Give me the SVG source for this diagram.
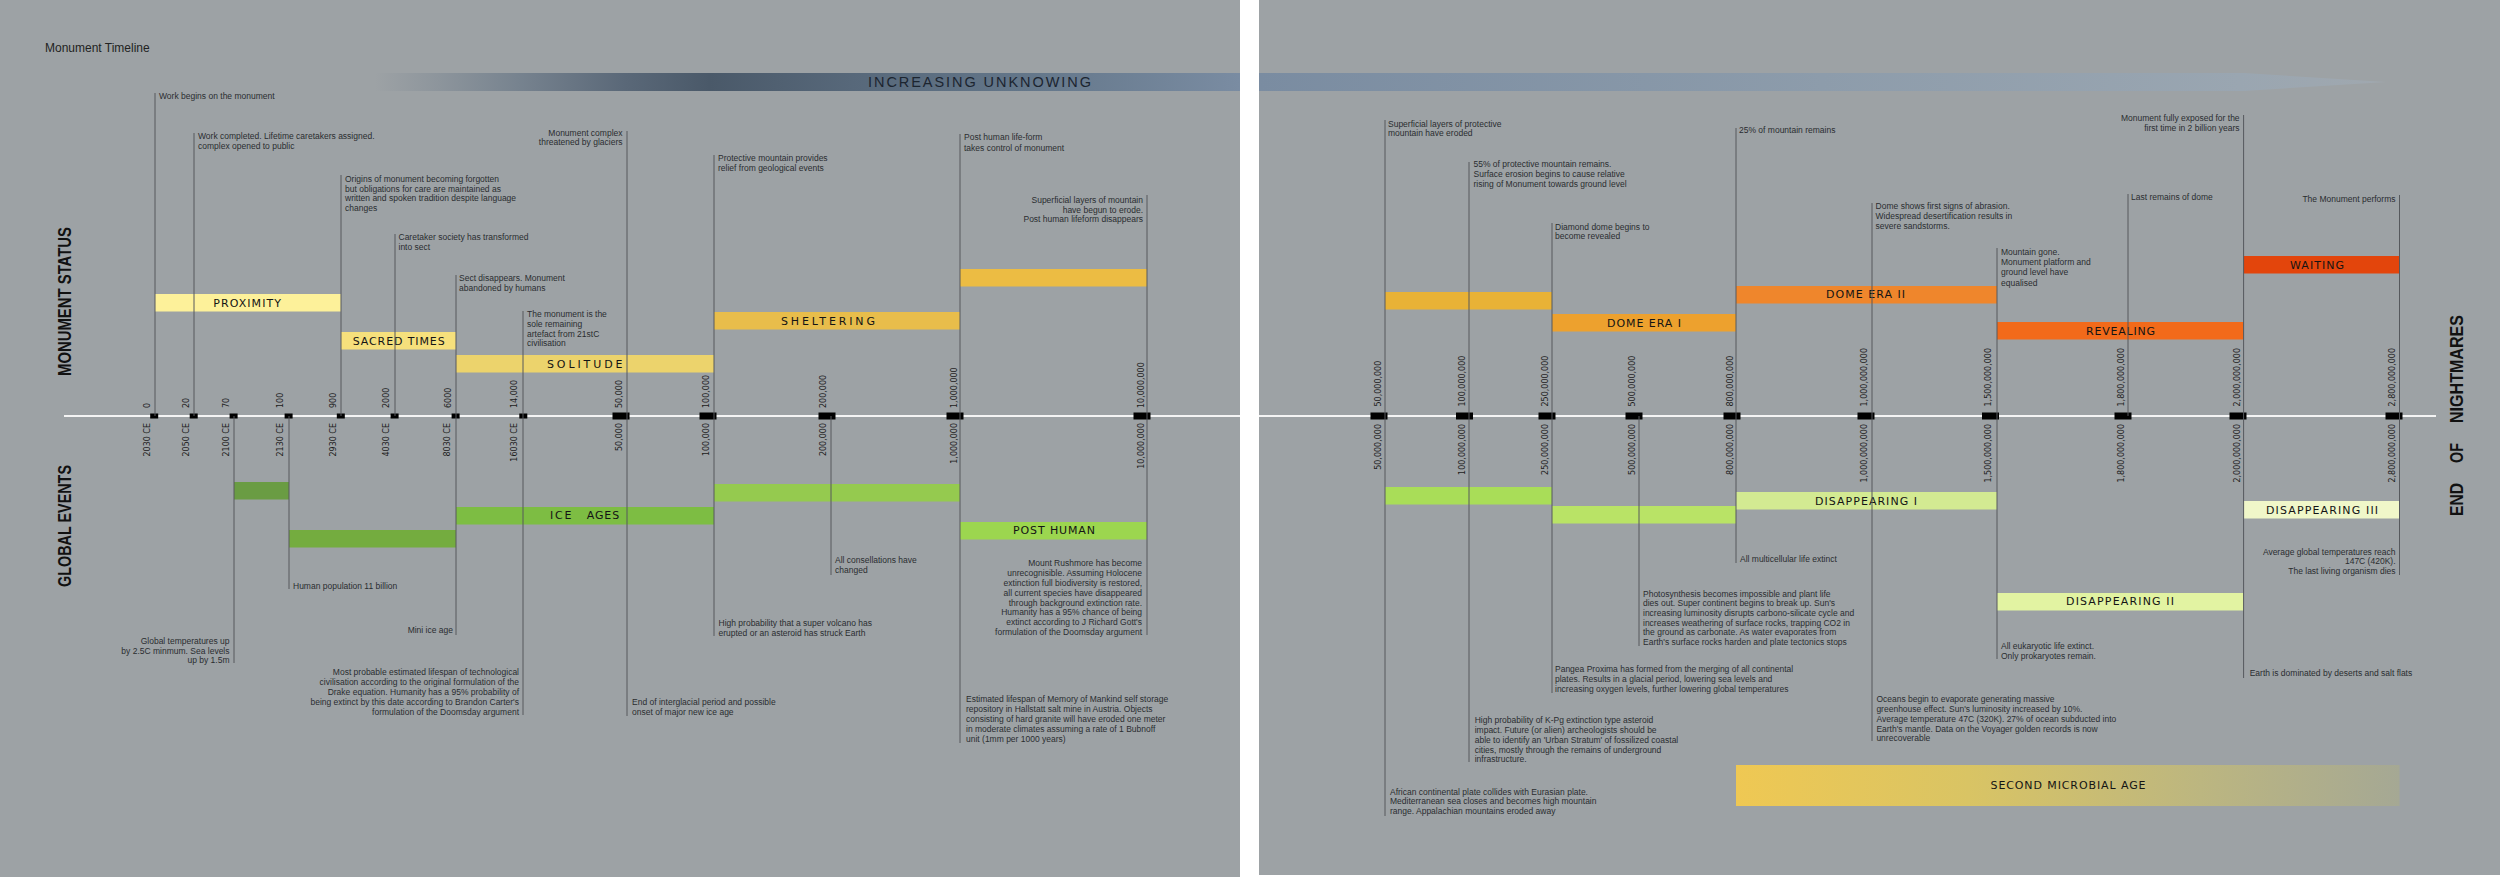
<svg xmlns="http://www.w3.org/2000/svg" width="2500" height="877" viewBox="0 0 2500 877">
<defs>
<linearGradient id="bandL" gradientUnits="userSpaceOnUse" x1="375" y1="0" x2="1240" y2="0">
<stop offset="0" stop-color="#9da2a5"/>
<stop offset="0.073" stop-color="#8d959c"/>
<stop offset="0.165" stop-color="#77838f"/>
<stop offset="0.289" stop-color="#5a6878"/>
<stop offset="0.387" stop-color="#4a5969"/>
<stop offset="0.551" stop-color="#57687a"/>
<stop offset="0.746" stop-color="#637689"/>
<stop offset="1" stop-color="#7a8ca2"/>
</linearGradient>
<linearGradient id="bandR" gradientUnits="userSpaceOnUse" x1="1259" y1="0" x2="2386" y2="0">
<stop offset="0" stop-color="#7a8ca1"/>
<stop offset="0.5" stop-color="#8d9cab"/>
<stop offset="0.87" stop-color="#9aa6b1"/>
<stop offset="1" stop-color="#a0a8af"/>
</linearGradient>
<linearGradient id="microbial" gradientUnits="userSpaceOnUse" x1="1736" y1="0" x2="2399.5" y2="0">
<stop offset="0" stop-color="#efc853"/>
<stop offset="0.35" stop-color="#d9c464"/>
<stop offset="0.7" stop-color="#bcb680"/>
<stop offset="1" stop-color="#a5a894"/>
</linearGradient>
</defs>
<style>
.panel{fill:#9da2a5}
.t{font-family:"Liberation Sans",Arial,sans-serif;font-size:8.5px;fill:#2a2d30}
.e{text-anchor:end}
.tk{font-family:"DejaVu Sans",Verdana,sans-serif;font-size:8px;fill:#1c1c1c}
.tke{font-family:"DejaVu Sans",Verdana,sans-serif;font-size:8px;fill:#1c1c1c;text-anchor:end}
.bl{font-family:"DejaVu Sans",Verdana,sans-serif;font-size:11px;fill:#141414}
.hd{font-family:"Liberation Sans",Arial,sans-serif;font-weight:bold;font-size:18px;fill:#111}
.ld{stroke:#56595d;stroke-width:1;fill:none}
.ax{stroke:#f4f4f4;stroke-width:2.2}
.mk{fill:#000}
</style>
<rect x="0" y="0" width="2500" height="877" fill="#ffffff"/>
<rect class="panel" x="0" y="0" width="1240" height="877"/>
<rect class="panel" x="1259" y="0" width="1241" height="875"/>

<g id="title"><text x="45" y="52" font-family="Liberation Sans, Arial, sans-serif" font-size="12" fill="#222">Monument Timeline</text></g>

<g id="band-unknowing">
<rect x="375" y="73" width="865" height="18" fill="url(#bandL)"/>
<path d="M1259,73 L2244,73 L2386,82 L2244,91 L1259,91 Z" fill="url(#bandR)"/>
<text x="868" y="87" font-family="Liberation Sans, Arial, sans-serif" font-size="14.5" fill="#1c2530" textLength="223" lengthAdjust="spacing">INCREASING UNKNOWING</text>
</g>

<g id="section-labels">
<text class="hd" transform="translate(71,376) rotate(-90)" textLength="149" lengthAdjust="spacingAndGlyphs">MONUMENT STATUS</text>
<text class="hd" transform="translate(71,587) rotate(-90)" textLength="122" lengthAdjust="spacingAndGlyphs">GLOBAL EVENTS</text>
<text class="hd" transform="translate(2462.5,516) rotate(-90)" textLength="33" lengthAdjust="spacingAndGlyphs">END</text>
<text class="hd" transform="translate(2462.5,463) rotate(-90)" textLength="20" lengthAdjust="spacingAndGlyphs">OF</text>
<text class="hd" transform="translate(2462.5,423) rotate(-90)" textLength="108" lengthAdjust="spacingAndGlyphs">NIGHTMARES</text>
</g>

<g id="axis">
<line class="ax" x1="64" y1="416" x2="1240" y2="416"/>
<line class="ax" x1="1259" y1="416" x2="2436" y2="416"/>
<rect class="mk" x="150.2" y="413.5" width="8" height="5"/>
<rect class="mk" x="189.7" y="413.5" width="8" height="5"/>
<rect class="mk" x="229.6" y="413.5" width="8" height="5"/>
<rect class="mk" x="284.6" y="413.5" width="8" height="5"/>
<rect class="mk" x="336.8" y="413.5" width="8" height="5"/>
<rect class="mk" x="390.6" y="413.5" width="8" height="5"/>
<rect class="mk" x="451.6" y="413.5" width="8" height="5"/>
<rect class="mk" x="519.3" y="413.5" width="8" height="5"/>
<rect class="mk" x="612.5" y="412.5" width="17" height="7"/>
<rect class="mk" x="699.5" y="412.5" width="17" height="7"/>
<rect class="mk" x="818.5" y="412.5" width="17" height="7"/>
<rect class="mk" x="946.5" y="412.5" width="17" height="7"/>
<rect class="mk" x="1133.5" y="412.5" width="17" height="7"/>
<rect class="mk" x="1370.5" y="412.5" width="17" height="7"/>
<rect class="mk" x="1456" y="412.5" width="17" height="7"/>
<rect class="mk" x="1538.5" y="412.5" width="17" height="7"/>
<rect class="mk" x="1625.5" y="412.5" width="17" height="7"/>
<rect class="mk" x="1723.5" y="412.5" width="17" height="7"/>
<rect class="mk" x="1857.5" y="412.5" width="17" height="7"/>
<rect class="mk" x="1982" y="412.5" width="17" height="7"/>
<rect class="mk" x="2114.5" y="412.5" width="17" height="7"/>
<rect class="mk" x="2229.5" y="412.5" width="17" height="7"/>
<rect class="mk" x="2385.5" y="412.5" width="17" height="7"/>
</g>

<g id="tick-labels">
<text class="tk" transform="translate(149.6,408) rotate(-90)">0</text>
<text class="tk" transform="translate(188.6,408) rotate(-90)">20</text>
<text class="tk" transform="translate(228.5,408) rotate(-90)">70</text>
<text class="tk" transform="translate(283.1,408) rotate(-90)">100</text>
<text class="tk" transform="translate(336.1,408) rotate(-90)">900</text>
<text class="tk" transform="translate(388.7,408) rotate(-90)">2000</text>
<text class="tk" transform="translate(450.5,408) rotate(-90)">6000</text>
<text class="tk" transform="translate(517.4,408) rotate(-90)">14,000</text>
<text class="tk" transform="translate(621.9,408) rotate(-90)">50,000</text>
<text class="tk" transform="translate(709.3,408) rotate(-90)">100,000</text>
<text class="tk" transform="translate(826.2,408) rotate(-90)">200,000</text>
<text class="tk" transform="translate(956.6,408) rotate(-90)">1,000,000</text>
<text class="tk" transform="translate(1144.1,408) rotate(-90)">10,000,000</text>
<text class="tk" transform="translate(1380.5,406.5) rotate(-90)">50,000,000</text>
<text class="tk" transform="translate(1464.5,406.5) rotate(-90)">100,000,000</text>
<text class="tk" transform="translate(1548.2,406.5) rotate(-90)">250,000,000</text>
<text class="tk" transform="translate(1634.7,406.5) rotate(-90)">500,000,000</text>
<text class="tk" transform="translate(1732.7,406.5) rotate(-90)">800,000,000</text>
<text class="tk" transform="translate(1867.4,406.5) rotate(-90)">1,000,000,000</text>
<text class="tk" transform="translate(1991.4,406.5) rotate(-90)">1,500,000,000</text>
<text class="tk" transform="translate(2123.6,406.5) rotate(-90)">1,800,000,000</text>
<text class="tk" transform="translate(2240.1,406.5) rotate(-90)">2,000,000,000</text>
<text class="tk" transform="translate(2395.2,406.5) rotate(-90)">2,800,000,000</text>

<text class="tke" transform="translate(149.6,423) rotate(-90)">2030 CE</text>
<text class="tke" transform="translate(188.6,423) rotate(-90)">2050 CE</text>
<text class="tke" transform="translate(228.5,423) rotate(-90)">2100 CE</text>
<text class="tke" transform="translate(283.1,423) rotate(-90)">2130 CE</text>
<text class="tke" transform="translate(336.1,423) rotate(-90)">2930 CE</text>
<text class="tke" transform="translate(388.7,423) rotate(-90)">4030 CE</text>
<text class="tke" transform="translate(450.1,423) rotate(-90)">8030 CE</text>
<text class="tke" transform="translate(517.4,423) rotate(-90)">16030 CE</text>
<text class="tke" transform="translate(621.9,423) rotate(-90)">50,000</text>
<text class="tke" transform="translate(709.3,423) rotate(-90)">100,000</text>
<text class="tke" transform="translate(826.2,423) rotate(-90)">200,000</text>
<text class="tke" transform="translate(956.6,423) rotate(-90)">1,000,000</text>
<text class="tke" transform="translate(1144.1,423) rotate(-90)">10,000,000</text>
<text class="tke" transform="translate(1380.5,424) rotate(-90)">50,000,000</text>
<text class="tke" transform="translate(1464.5,424) rotate(-90)">100,000,000</text>
<text class="tke" transform="translate(1548.2,424) rotate(-90)">250,000,000</text>
<text class="tke" transform="translate(1634.7,424) rotate(-90)">500,000,000</text>
<text class="tke" transform="translate(1732.7,424) rotate(-90)">800,000,000</text>
<text class="tke" transform="translate(1867.4,424) rotate(-90)">1,000,000,000</text>
<text class="tke" transform="translate(1991.4,424) rotate(-90)">1,500,000,000</text>
<text class="tke" transform="translate(2123.6,424) rotate(-90)">1,800,000,000</text>
<text class="tke" transform="translate(2240.1,424) rotate(-90)">2,000,000,000</text>
<text class="tke" transform="translate(2395.2,424) rotate(-90)">2,800,000,000</text>
</g>

<g id="phase-proximity"><rect x="155" y="294" width="186" height="17.5" fill="#fdf19a"/><text class="bl" x="213.2" y="307" textLength="67.8" lengthAdjust="spacing">PROXIMITY</text></g>
<g id="phase-sacred-times"><rect x="341" y="332" width="115" height="17.5" fill="#f6e07c"/><text class="bl" x="352.7" y="345" textLength="92" lengthAdjust="spacing">SACRED TIMES</text></g>
<g id="phase-solitude"><rect x="456" y="355" width="258" height="17.5" fill="#ecd36c"/><text class="bl" x="547" y="368" textLength="75.5" lengthAdjust="spacing">SOLITUDE</text></g>
<g id="phase-sheltering"><rect x="714" y="312" width="246" height="17.5" fill="#e8bd4b"/><text class="bl" x="781" y="324.5" textLength="94" lengthAdjust="spacing">SHELTERING</text></g>
<g id="phase-posthuman-status"><rect x="960" y="269" width="187" height="17.5" fill="#ecbc43"/></g>
<g id="phase-erosion"><rect x="1385" y="292" width="167" height="17.5" fill="#e8b236"/></g>
<g id="phase-dome-era-1"><rect x="1552" y="314" width="184" height="17.5" fill="#eda12e"/><text class="bl" x="1607" y="327" textLength="74" lengthAdjust="spacing">DOME ERA I</text></g>
<g id="phase-dome-era-2"><rect x="1736" y="286" width="261" height="17.5" fill="#ef862c"/><text class="bl" x="1826" y="298.3" textLength="79" lengthAdjust="spacing">DOME ERA II</text></g>
<g id="phase-revealing"><rect x="1997" y="322" width="246.6" height="17.5" fill="#f26a1a"/><text class="bl" x="2086" y="335.3" textLength="69" lengthAdjust="spacing">REVEALING</text></g>
<g id="phase-waiting"><rect x="2243.6" y="256" width="155.9" height="17.5" fill="#e3450c"/><text class="bl" x="2290" y="268.5" textLength="54" lengthAdjust="spacing">WAITING</text></g>

<g id="global-warming"><rect x="234" y="482" width="55" height="17.5" fill="#6a9c43"/></g>
<g id="global-population"><rect x="289" y="530" width="167" height="17.5" fill="#74ac3f"/></g>
<g id="global-ice-ages"><rect x="456" y="507" width="258" height="17.5" fill="#7dbd43"/><text class="bl" x="550" y="519.3" textLength="21.5" lengthAdjust="spacing">ICE</text><text class="bl" x="586.7" y="519.3" textLength="32.5" lengthAdjust="spacing">AGES</text></g>
<g id="global-catastrophe"><rect x="714" y="484" width="246" height="17.5" fill="#95ca4f"/></g>
<g id="global-post-human"><rect x="960" y="522" width="187" height="17.5" fill="#9cd64f"/><text class="bl" x="1013" y="534.3" textLength="82" lengthAdjust="spacing">POST HUMAN</text></g>
<g id="global-continents"><rect x="1385" y="487" width="167" height="17.5" fill="#a9dd58"/></g>
<g id="global-pangea"><rect x="1552" y="506" width="184" height="17.5" fill="#b9e366"/></g>
<g id="global-disappearing-1"><rect x="1736" y="492" width="261" height="17.5" fill="#d3ea92"/><text class="bl" x="1815" y="504.7" textLength="102" lengthAdjust="spacing">DISAPPEARING I</text></g>
<g id="global-disappearing-2"><rect x="1997" y="593" width="246.6" height="17.5" fill="#e2f3a2"/><text class="bl" x="2066" y="605" textLength="108" lengthAdjust="spacing">DISAPPEARING II</text></g>
<g id="global-disappearing-3"><rect x="2243.6" y="501" width="155.9" height="17.5" fill="#f0f7c9"/><text class="bl" x="2266" y="514.3" textLength="112" lengthAdjust="spacing">DISAPPEARING III</text></g>
<g id="global-second-microbial-age"><rect x="1736" y="765" width="663.5" height="41" fill="url(#microbial)"/><text class="bl" x="1990.5" y="789.3" textLength="155" lengthAdjust="spacing">SECOND MICROBIAL AGE</text></g>

<g id="connectors">
<line class="ld" x1="155" y1="93" x2="155" y2="416"/>
<line class="ld" x1="194" y1="133" x2="194" y2="416"/>
<line class="ld" x1="341" y1="175" x2="341" y2="416"/>
<line class="ld" x1="395" y1="234" x2="395" y2="416"/>
<line class="ld" x1="456" y1="275" x2="456" y2="635"/>
<line class="ld" x1="523" y1="311" x2="523" y2="715"/>
<line class="ld" x1="627" y1="131" x2="627" y2="716"/>
<line class="ld" x1="714" y1="155" x2="714" y2="636"/>
<line class="ld" x1="960" y1="134" x2="960" y2="743"/>
<line class="ld" x1="1147" y1="195" x2="1147" y2="635"/>
<line class="ld" x1="234" y1="416" x2="234" y2="663"/>
<line class="ld" x1="289" y1="416" x2="289" y2="589"/>
<line class="ld" x1="831" y1="416" x2="831" y2="575"/>
<line class="ld" x1="1385" y1="120" x2="1385" y2="816"/>
<line class="ld" x1="1469" y1="162" x2="1469" y2="762"/>
<line class="ld" x1="1552" y1="223" x2="1552" y2="693"/>
<line class="ld" x1="1639" y1="416" x2="1639" y2="646"/>
<line class="ld" x1="1736" y1="128" x2="1736" y2="563"/>
<line class="ld" x1="1872" y1="203" x2="1872" y2="741"/>
<line class="ld" x1="1997" y1="248" x2="1997" y2="659"/>
<line class="ld" x1="2128" y1="194" x2="2128" y2="416"/>
<line class="ld" x1="2243.6" y1="115" x2="2243.6" y2="678"/>
<line class="ld" x1="2399.5" y1="195" x2="2399.5" y2="575"/>
</g>

<g id="ev-work-begins"><text class="t" x="159" y="99">Work begins on the monument</text></g>
<g id="ev-work-completed"><text class="t"><tspan x="198" y="139">Work completed. Lifetime caretakers assigned.</tspan><tspan x="198" y="149">complex opened to public</tspan></text></g>
<g id="ev-origins-forgotten"><text class="t"><tspan x="345" y="181.7">Origins of monument becoming forgotten</tspan><tspan x="345" y="191.5">but obligations for care are maintained as</tspan><tspan x="345" y="201.3">written and spoken tradition despite language</tspan><tspan x="345" y="211">changes</tspan></text></g>
<g id="ev-sect"><text class="t"><tspan x="398.5" y="240">Caretaker society has transformed</tspan><tspan x="398.5" y="250">into sect</tspan></text></g>
<g id="ev-sect-disappears"><text class="t"><tspan x="459" y="281">Sect disappears. Monument</tspan><tspan x="459" y="291">abandoned by humans</tspan></text></g>
<g id="ev-sole-artefact"><text class="t"><tspan x="527" y="317">The monument is the</tspan><tspan x="527" y="327">sole remaining</tspan><tspan x="527" y="336.5">artefact from 21stC</tspan><tspan x="527" y="346">civilisation</tspan></text></g>
<g id="ev-glaciers"><text class="t e"><tspan x="622.5" y="135.7">Monument complex</tspan><tspan x="622.5" y="145.3">threatened by glaciers</tspan></text></g>
<g id="ev-protective-mountain"><text class="t"><tspan x="718" y="161">Protective mountain provides</tspan><tspan x="718" y="170.5">relief from geological events</tspan></text></g>
<g id="ev-post-human-control"><text class="t"><tspan x="964" y="140.3">Post human life-form</tspan><tspan x="964" y="150.7">takes control of monument</tspan></text></g>
<g id="ev-superficial-erode"><text class="t e"><tspan x="1143" y="203">Superficial layers of mountain</tspan><tspan x="1143" y="212.7">have begun to erode.</tspan><tspan x="1143" y="222.3">Post human lifeform disappears</tspan></text></g>

<g id="ge-temperatures"><text class="t e"><tspan x="229.5" y="644">Global temperatures up</tspan><tspan x="229.5" y="653.7">by 2.5C minmum. Sea levels</tspan><tspan x="229.5" y="663.3">up by 1.5m</tspan></text></g>
<g id="ge-population"><text class="t" x="293" y="589">Human population 11 billion</text></g>
<g id="ge-mini-ice-age"><text class="t e" x="453" y="633.3">Mini ice age</text></g>
<g id="ge-drake"><text class="t e"><tspan x="519" y="675">Most probable estimated lifespan of technological</tspan><tspan x="519" y="684.7">civilisation according to the original formulation of the</tspan><tspan x="519" y="694.7">Drake equation. Humanity has a 95% probability of</tspan><tspan x="519" y="704.7">being extinct by this date according to Brandon Carter's</tspan><tspan x="519" y="714.5">formulation of the Doomsday argument</tspan></text></g>
<g id="ge-interglacial"><text class="t"><tspan x="632" y="705">End of interglacial period and possible</tspan><tspan x="632" y="715">onset of major new ice age</tspan></text></g>
<g id="ge-super-volcano"><text class="t"><tspan x="718.5" y="626">High probability that a super volcano has</tspan><tspan x="718.5" y="635.5">erupted or an asteroid has struck Earth</tspan></text></g>
<g id="ge-constellations"><text class="t"><tspan x="835" y="563.3">All consellations have</tspan><tspan x="835" y="573.3">changed</tspan></text></g>
<g id="ge-memory-of-mankind"><text class="t"><tspan x="966" y="702">Estimated lifespan of Memory of Mankind self storage</tspan><tspan x="966" y="712">repository in Hallstatt salt mine in Austria. Objects</tspan><tspan x="966" y="722">consisting of hard granite will have eroded one meter</tspan><tspan x="966" y="732">in moderate climates assuming a rate of 1 Bubnoff</tspan><tspan x="966" y="742">unit (1mm per 1000 years)</tspan></text></g>
<g id="ge-rushmore"><text class="t e"><tspan x="1142" y="566">Mount Rushmore has become</tspan><tspan x="1142" y="576">unrecognisible. Assuming Holocene</tspan><tspan x="1142" y="585.7">extinction full biodiversity is restored,</tspan><tspan x="1142" y="595.7">all current species have disappeared</tspan><tspan x="1142" y="605.5">through background extinction rate.</tspan><tspan x="1142" y="615.3">Humanity has a 95% chance of being</tspan><tspan x="1142" y="625.3">extinct according to J Richard Gott's</tspan><tspan x="1142" y="635">formulation of the Doomsday argument</tspan></text></g>

<g id="ev-superficial-protective"><text class="t"><tspan x="1388" y="126.7">Superficial layers of protective</tspan><tspan x="1388" y="136.3">mountain have eroded</tspan></text></g>
<g id="ev-55-percent"><text class="t"><tspan x="1473.5" y="167.3">55% of protective mountain remains.</tspan><tspan x="1473.5" y="177">Surface erosion begins to cause relative</tspan><tspan x="1473.5" y="187">rising of Monument towards ground level</tspan></text></g>
<g id="ev-diamond-dome"><text class="t"><tspan x="1555" y="229.7">Diamond dome begins to</tspan><tspan x="1555" y="239.3">become revealed</tspan></text></g>
<g id="ev-25-percent"><text class="t" x="1739" y="133.3">25% of mountain remains</text></g>
<g id="ev-abrasion"><text class="t"><tspan x="1875.6" y="209.3">Dome shows first signs of abrasion.</tspan><tspan x="1875.6" y="219.3">Widespread desertification results in</tspan><tspan x="1875.6" y="229.3">severe sandstorms.</tspan></text></g>
<g id="ev-mountain-gone"><text class="t"><tspan x="2001" y="254.7">Mountain gone.</tspan><tspan x="2001" y="265">Monument platform and</tspan><tspan x="2001" y="275.3">ground level have</tspan><tspan x="2001" y="285.7">equalised</tspan></text></g>
<g id="ev-last-dome"><text class="t" x="2131" y="200">Last remains of dome</text></g>
<g id="ev-fully-exposed"><text class="t e"><tspan x="2239.6" y="121.3">Monument fully exposed for the</tspan><tspan x="2239.6" y="131">first time in 2 billion years</tspan></text></g>
<g id="ev-performs"><text class="t e" x="2395.5" y="202">The Monument performs</text></g>

<g id="ge-african-plate"><text class="t"><tspan x="1390" y="794.7">African continental plate collides with Eurasian plate.</tspan><tspan x="1390" y="804.3">Mediterranean sea closes and becomes high mountain</tspan><tspan x="1390" y="814.3">range. Appalachian mountains eroded away</tspan></text></g>
<g id="ge-k-pg"><text class="t"><tspan x="1474.7" y="723.3">High probability of K-Pg extinction type asteroid</tspan><tspan x="1474.7" y="733">impact. Future (or alien) archeologists should be</tspan><tspan x="1474.7" y="742.7">able to identify an 'Urban Stratum' of fossilized coastal</tspan><tspan x="1474.7" y="752.7">cities, mostly through the remains of underground</tspan><tspan x="1474.7" y="762.3">infrastructure.</tspan></text></g>
<g id="ge-pangea"><text class="t"><tspan x="1555" y="672.3">Pangea Proxima has formed from the merging of all continental</tspan><tspan x="1555" y="682">plates. Results in a glacial period, lowering sea levels and</tspan><tspan x="1555" y="692">increasing oxygen levels, further lowering global temperatures</tspan></text></g>
<g id="ge-photosynthesis"><text class="t"><tspan x="1643" y="596.7">Photosynthesis becomes impossible and plant life</tspan><tspan x="1643" y="606.3">dies out. Super continent begins to break up. Sun's</tspan><tspan x="1643" y="616">increasing luminosity disrupts carbono-silicate cycle and</tspan><tspan x="1643" y="625.7">increases weathering of surface rocks, trapping CO2 in</tspan><tspan x="1643" y="635.3">the ground as carbonate. As water evaporates from</tspan><tspan x="1643" y="645">Earth's surface rocks harden and plate tectonics stops</tspan></text></g>
<g id="ge-multicellular"><text class="t" x="1740" y="561.7">All multicellular life extinct</text></g>
<g id="ge-oceans"><text class="t"><tspan x="1876.4" y="702.3">Oceans begin to evaporate generating massive</tspan><tspan x="1876.4" y="712">greenhouse effect. Sun's luminosity increased by 10%.</tspan><tspan x="1876.4" y="721.7">Average temperature 47C (320K). 27% of ocean subducted into</tspan><tspan x="1876.4" y="731.7">Earth's mantle. Data on the Voyager golden records is now</tspan><tspan x="1876.4" y="741.3">unrecoverable</tspan></text></g>
<g id="ge-eukaryotic"><text class="t"><tspan x="2001" y="649.3">All eukaryotic life extinct.</tspan><tspan x="2001" y="659.3">Only prokaryotes remain.</tspan></text></g>
<g id="ge-deserts"><text class="t" x="2249.7" y="676.3">Earth is dominated by deserts and salt flats</text></g>
<g id="ge-last-organism"><text class="t e"><tspan x="2395.5" y="554.7">Average global temperatures reach</tspan><tspan x="2395.5" y="564.3">147C (420K).</tspan><tspan x="2395.5" y="574">The last living organism dies</tspan></text></g>
</svg>
